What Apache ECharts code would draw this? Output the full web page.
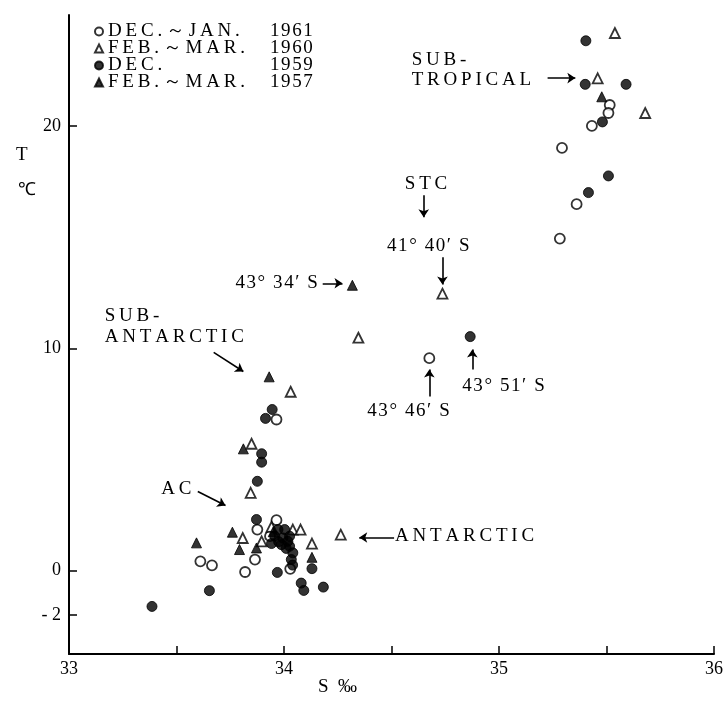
<!DOCTYPE html>
<html><head><meta charset="utf-8">
<script src="https://cdn.jsdelivr.net/npm/echarts@6/dist/echarts.min.js"></script>
<style>html,body{margin:0;padding:0;background:#fff}#c{width:726px;height:702px}</style>
</head><body><div id="c"></div>
<script>
// ---- data (S ‰, T °C) ----
const legendNames = ["DEC.～JAN. 1961", "FEB.～MAR. 1960", "DEC. 1959", "FEB.～MAR. 1957"];
const legendLeft = ["DEC.～JAN.", "FEB.～MAR.", "DEC.", "FEB.～MAR."];
const legendYear = ["1961", "1960", "1959", "1957"];

const dec1961 = [[35.515,20.95],[35.509,20.59],[35.432,20.01],[35.293,19.02],[35.361,16.49],[35.283,14.94],
  [34.676,9.56],[33.965,6.80],[33.965,2.27],[33.876,1.85],[33.865,0.50],[33.819,-0.06],[34.029,0.08],
  [33.611,0.42],[33.665,0.24],[33.935,1.55]];
const feb1960 = [[35.539,24.19],[35.459,22.15],[35.680,20.59],[34.737,12.46],[34.346,10.48],[34.031,8.05],
  [33.849,5.71],[33.845,3.50],[33.942,1.97],[34.041,1.85],[34.077,1.85],[33.808,1.47],[33.896,1.32],
  [34.130,1.22],[34.264,1.62]];
const dec1959 = [[35.404,23.84],[35.401,21.88],[35.591,21.88],[35.481,20.19],[35.509,17.76],[35.416,17.01],
  [34.866,10.53],[33.945,7.25],[33.914,6.85],[33.896,5.26],[33.896,4.88],[33.876,4.02],[33.872,2.30],
  [33.969,-0.08],[34.130,0.09],[34.080,-0.56],[34.092,-0.89],[34.183,-0.74],[33.653,-0.90],[33.386,-1.61],
  [33.972,1.85],[34.003,1.85],[33.957,1.55],[33.995,1.47],[34.026,1.55],[33.942,1.22],[33.988,1.17],
  [34.026,1.10],[34.041,0.80],[34.034,0.50],[34.018,1.32],[33.975,1.30],[34.010,1.00],[34.040,0.25]];
const feb1957 = [[35.478,21.32],[34.318,12.84],[33.931,8.72],[33.811,5.48],[33.760,1.73],[33.793,0.95],
  [33.872,1.02],[34.130,0.60],[33.593,1.25],[33.950,1.75]];

const xTickVals = [33.5, 34, 34.5, 35, 35.5, 36];
const xLabelVals = [33, 34, 35, 36];
const yTickVals = [-2, 0, 10, 20];

// annotations: [S, T, text, wide]
const annoTexts = [
  [34.594, 22.93, "SUB-", 1], [34.594, 22.03, "TROPICAL", 1],
  [34.562, 17.39, "STC", 1], [34.479, 14.59, "41° 40′ S", 0],
  [33.774, 12.93, "43° 34′ S", 0],
  [33.166, 11.44, "SUB-", 1], [33.166, 10.50, "ANTARCTIC", 1],
  [34.387, 7.16, "43° 46′ S", 0], [34.829, 8.29, "43° 51′ S", 0],
  [33.429, 3.65, "AC", 1], [34.516, 1.53, "ANTARCTIC", 1]
];
const annoArrows = [
  [[35.226,22.16],[35.355,22.16]],
  [[34.650,16.89],[34.650,15.90]],
  [[34.737,14.10],[34.737,12.88]],
  [[34.180,12.93],[34.272,12.93]],
  [[33.673,9.82],[33.811,8.96]],
  [[34.676,7.84],[34.676,9.05]],
  [[34.876,9.05],[34.876,9.95]],
  [[33.599,3.56],[33.728,2.93]],
  [[34.512,1.49],[34.350,1.49]]
];

const FONT = "Liberation Serif";
const THIN = "\u2009", HAIR = "\u200A";
const spaced = (s, sp) => s.split('').join(sp);

const chart = echarts.init(document.getElementById('c'), null, {renderer: 'canvas'});

function sc(name, data, symbol, filled) {
  return {
    name, type: 'scatter', data, symbol, symbolSize: 10,
    itemStyle: filled ? {color: '#000', borderColor: '#000', borderWidth: 1}
                      : {color: '#fff', borderColor: '#000', borderWidth: 1.8},
    z: 3
  };
}

const option = {
  backgroundColor: '#fff',
  animation: false,
  grid: {left: 69, right: 6, top: 15, bottom: 48},
  legend: {
    orient: 'vertical', left: 89, top: 17, itemGap: -2, itemWidth: 8, itemHeight: 8,
    selectedMode: false,
    data: legendNames,
    textStyle: {fontFamily: FONT, fontSize: 19, lineHeight: 17, color: '#000',
      rich: {a: {fontFamily: FONT, fontSize: 19, lineHeight: 17, width: 162, color: '#000'},
             b: {fontFamily: FONT, fontSize: 19, lineHeight: 17, color: '#000'}}},
    formatter: n => { const i = legendNames.indexOf(n);
      return '{a|' + spaced(legendLeft[i], THIN) + '}{b|' + spaced(legendYear[i], HAIR) + '}'; }
  },
  xAxis: {
    type: 'value', min: 33, max: 36,
    axisLine: {onZero: false, lineStyle: {color: '#000', width: 2}},
    splitLine: {show: false},
    axisTick: {inside: true, length: 8, customValues: xTickVals, lineStyle: {color: '#000', width: 1.5}},
    axisLabel: {customValues: xLabelVals, fontFamily: FONT, fontSize: 18, color: '#000', margin: 6}
  },
  yAxis: {
    type: 'value', min: -3.75, max: 25,
    axisLine: {onZero: false, lineStyle: {color: '#000', width: 2}},
    splitLine: {show: false},
    axisTick: {inside: true, length: 8, customValues: yTickVals, lineStyle: {color: '#000', width: 1.5}},
    axisLabel: {customValues: yTickVals, fontFamily: FONT, fontSize: 18, color: '#000', margin: 8,
      formatter: v => v < 0 ? '- ' + Math.abs(v) : String(v)}
  },
  series: [
    sc(legendNames[0], dec1961, 'circle', false),
    sc(legendNames[1], feb1960, 'triangle', false),
    sc(legendNames[2], dec1959, 'circle', true),
    sc(legendNames[3], feb1957, 'triangle', true),
    {
      type: 'lines', coordinateSystem: 'cartesian2d', z: 2, silent: true,
      symbol: ['none', 'arrow'], symbolSize: 8,
      lineStyle: {color: '#000', width: 1.6, opacity: 1},
      data: annoArrows.map(a => ({coords: a}))
    }
  ]
};
chart.setOption(option);

const g = [];
annoTexts.forEach(t => {
  const p = chart.convertToPixel({gridIndex: 0}, [t[0], t[1]]);
  g.push({type: 'text', left: p[0], top: p[1] - 10,
    style: {text: spaced(t[2], t[3] ? THIN : HAIR), font: '19px "' + FONT + '"', fill: '#000'}});
});
g.push({type: 'text', left: 16, top: 146, style: {text: 'T', font: '19px "' + FONT + '"', fill: '#000'}});
g.push({type: 'text', left: 18, top: 181, style: {text: '℃', font: '18px "' + FONT + '"', fill: '#000'}});
g.push({type: 'text', left: 318, top: 678, style: {text: 'S  ‰', font: '19px "' + FONT + '"', fill: '#000'}});
chart.setOption({graphic: g});
</script></body></html>
